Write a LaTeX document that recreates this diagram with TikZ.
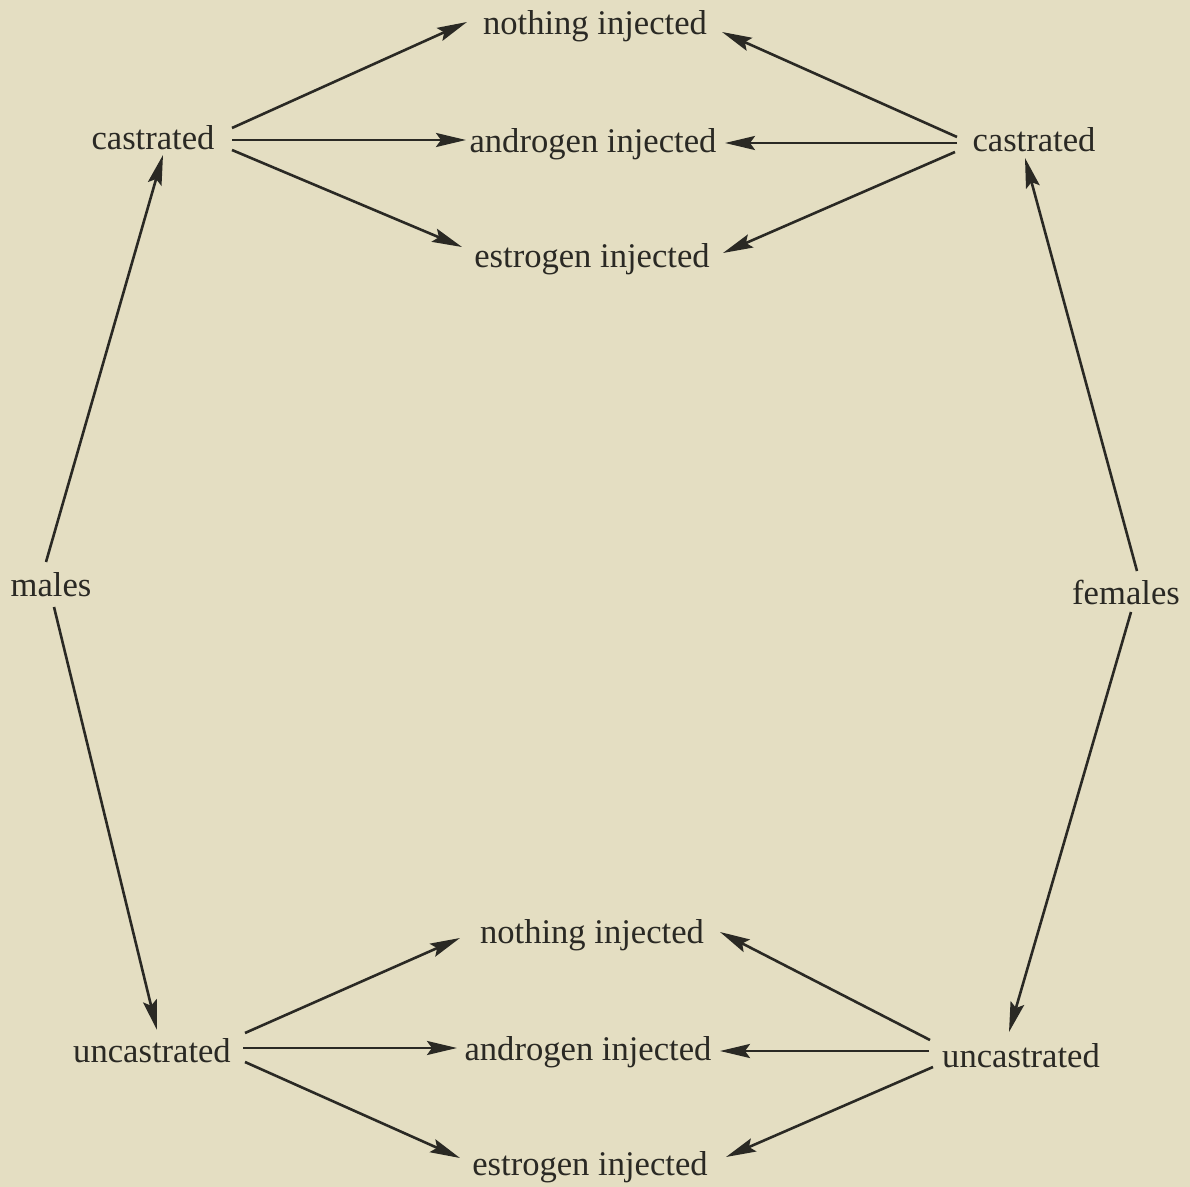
\documentclass[tikz,border=0pt]{standalone}
\usepackage{fontspec}
\setmainfont{Liberation Serif}
\usetikzlibrary{arrows.meta}
\definecolor{paper}{HTML}{E4DEC2}
\definecolor{ink}{HTML}{2A2924}
\begin{document}
\begin{tikzpicture}[x=0.5pt,y=-0.5pt,
  lbl/.style={inner sep=0pt,text=ink,font=\fontsize{17.3}{20}\selectfont},
  arr/.style={draw=ink,line width=1.3pt,-{Stealth[length=15pt,width=7pt,inset=2.5pt]}}]
\fill[paper] (0,0) rectangle (1190,1187);
\useasboundingbox (0,0) rectangle (1190,1187);
% nodes
\node[lbl] (nT) at (595,26) {nothing injected};
\node[lbl] (aT) at (593,144) {androgen injected};
\node[lbl] (eT) at (592,259) {estrogen injected};
\node[lbl] (cL) at (153,138) {castrated};
\node[lbl] (cR) at (1034,140) {castrated};
\node[lbl] (M) at (51,585) {males};
\node[lbl] (F) at (1126,592) {females};
\node[lbl] (nB) at (592,935) {nothing injected};
\node[lbl] (aB) at (588,1052) {androgen injected};
\node[lbl] (eB) at (590,1167) {estrogen injected};
\node[lbl] (uL) at (152,1051) {uncastrated};
\node[lbl] (uR) at (1021,1056) {uncastrated};
% top left fan
\draw[arr] ([shift={(79,-10)}]cL.center) -- ([shift={(-128,-4)}]nT.center);
\draw[arr] ([shift={(79,2)}]cL.center) -- ([shift={(-127,-4)}]aT.center);
\draw[arr] ([shift={(79,12)}]cL.center) -- ([shift={(-130,-12)}]eT.center);
% top right fan
\draw[arr] ([shift={(-77,-3)}]cR.center) -- ([shift={(127,6)}]nT.center);
\draw[arr] ([shift={(-77,3)}]cR.center) -- ([shift={(132,-1)}]aT.center);
\draw[arr] ([shift={(-79,12)}]cR.center) -- ([shift={(131,-6)}]eT.center);
% sides
\draw[arr] ([shift={(-5,-23)}]M.center) -- ([shift={(10,17)}]cL.center);
\draw[arr] ([shift={(3,22)}]M.center) -- ([shift={(5,-21)}]uL.center);
\draw[arr] ([shift={(11,-21)}]F.center) -- ([shift={(-9,18)}]cR.center);
\draw[arr] ([shift={(5,20)}]F.center) -- ([shift={(-12,-24)}]uR.center);
% bottom left fan
\draw[arr] ([shift={(93,-18)}]uL.center) -- ([shift={(-132,3)}]nB.center);
\draw[arr] ([shift={(91,-3)}]uL.center) -- ([shift={(-131,-4)}]aB.center);
\draw[arr] ([shift={(93,11)}]uL.center) -- ([shift={(-130,-9)}]eB.center);
% bottom right fan
\draw[arr] ([shift={(-91,-16)}]uR.center) -- ([shift={(128,-3)}]nB.center);
\draw[arr] ([shift={(-92,-5)}]uR.center) -- ([shift={(132,-1)}]aB.center);
\draw[arr] ([shift={(-88,11)}]uR.center) -- ([shift={(136,-10)}]eB.center);
\end{tikzpicture}
\end{document}
